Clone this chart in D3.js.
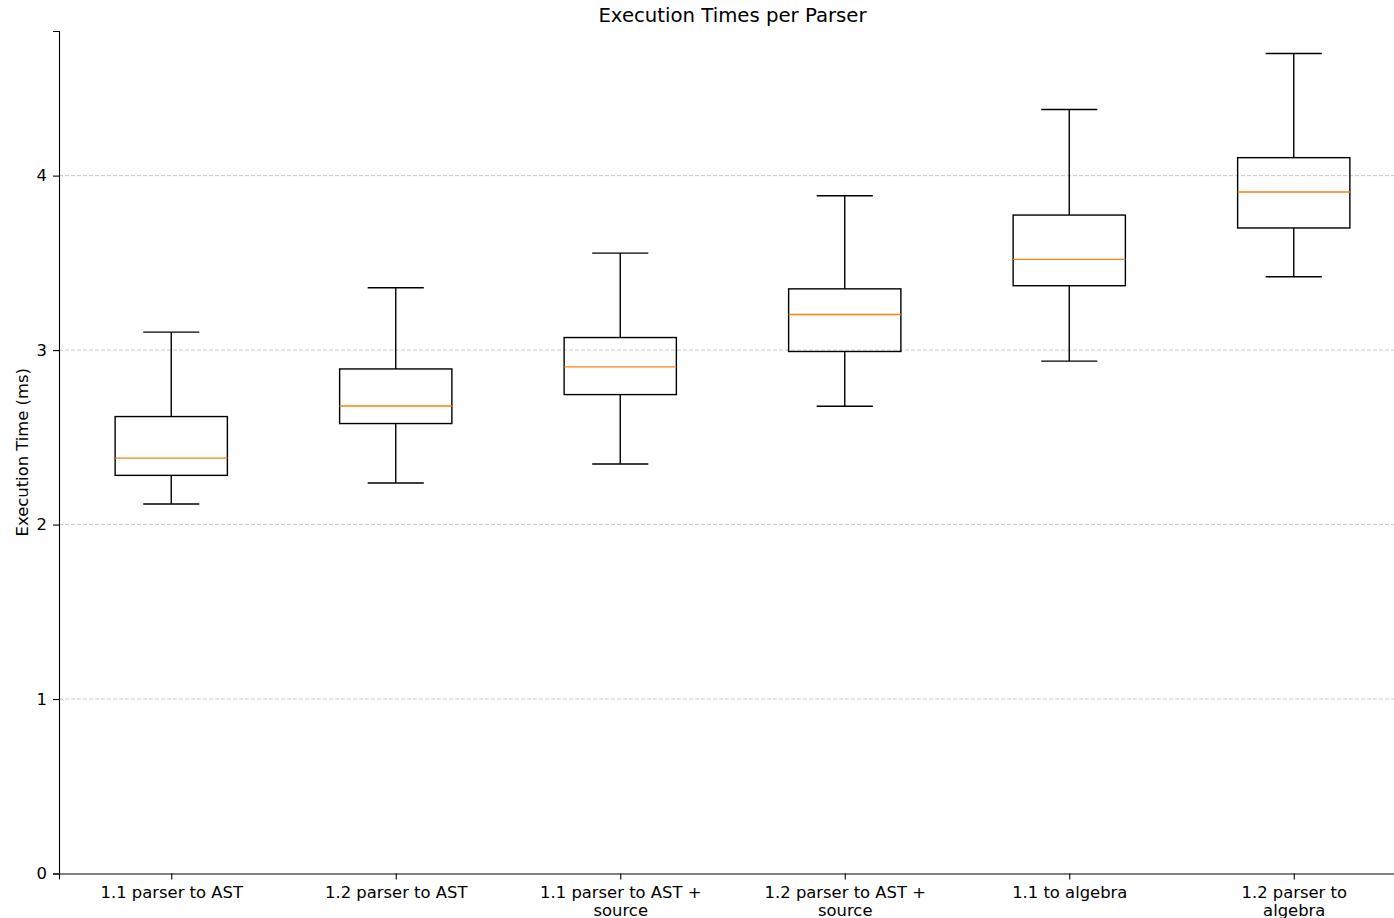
<!DOCTYPE html>
<html>
<head>
<meta charset="utf-8">
<script src="https://cdn.jsdelivr.net/npm/d3@7"></script>
<style>
  html, body { margin: 0; padding: 0; background: #fff; }
  svg { display: block; font-family: "DejaVu Sans", sans-serif; }
</style>
</head>
<body>
<svg id="chart" width="1394" height="918"></svg>
<script>
const categories = [
  ["1.1 parser to AST"],
  ["1.2 parser to AST"],
  ["1.1 parser to AST +", "source"],
  ["1.2 parser to AST +", "source"],
  ["1.1 to algebra"],
  ["1.2 parser to", "algebra"]
];
const whiskerLow  = [2.118, 2.238, 2.347, 2.678, 2.937, 3.420];
const q1          = [2.282, 2.579, 2.745, 2.992, 3.369, 3.700];
const median      = [2.381, 2.680, 2.904, 3.204, 3.520, 3.906];
const q3          = [2.619, 2.892, 3.072, 3.351, 3.774, 4.103];
const whiskerHigh = [3.103, 3.357, 3.556, 3.885, 4.379, 4.700];
const yTicks = [0, 1, 2, 3, 4];

const svg = d3.select("#chart");
const mLeft = 59, mRight = 1406, mTop = 31, mBottom = 873.5;
const fs = 16.4;

const x = d3.scaleLinear().domain([0.5, 6.5]).range([mLeft, mRight]);
const y = d3.scaleLinear().domain([0, 4.829]).range([mBottom, mTop]);

// grid
svg.append("g").selectAll("line").data(yTicks.filter(d => d > 0)).join("line")
  .attr("x1", mLeft).attr("x2", mRight)
  .attr("y1", d => y(d)).attr("y2", d => y(d))
  .attr("stroke", "#c8c8c8").attr("stroke-width", 1)
  .attr("stroke-dasharray", "4,2");

// y axis
const yAxis = svg.append("g").attr("transform", `translate(${mLeft},0)`)
  .call(d3.axisLeft(y).tickValues(yTicks).tickFormat(d3.format("d")).tickSizeOuter(0).tickSize(6).tickPadding(6));
yAxis.select(".domain").attr("stroke", "#000").attr("stroke-width", 1.1);
yAxis.selectAll(".tick line").attr("stroke", "#000").attr("stroke-width", 1.1);
yAxis.selectAll(".tick text").attr("font-size", fs).attr("fill", "#000").attr("font-family", "DejaVu Sans");

// x axis
const idx = d3.range(1, 7);
const xAxis = svg.append("g").attr("transform", `translate(0,${mBottom})`)
  .call(d3.axisBottom(x).tickValues(idx).tickFormat("").tickSizeOuter(0).tickSize(6));
xAxis.select(".domain").attr("stroke", "#000").attr("stroke-width", 1.1);
xAxis.selectAll(".tick line").attr("stroke", "#000").attr("stroke-width", 1.1);
xAxis.selectAll(".tick").each(function(d) {
  const lines = categories[d - 1];
  const t = d3.select(this).append("text")
    .attr("text-anchor", "middle").attr("font-size", fs).attr("fill", "#000")
    .attr("font-family", "DejaVu Sans");
  lines.forEach((ln, i) => {
    t.append("tspan").attr("x", 0).attr("y", 24 + i * 18.3).text(ln);
  });
});

// boxes
const data = idx.map((k, i) => ({k, lo: whiskerLow[i], q1: q1[i], med: median[i], q3: q3[i], hi: whiskerHigh[i]}));
const boxHalf = 0.25, capHalf = 0.125;
const g = svg.append("g").attr("stroke-width", 1.4);
const b = g.selectAll("g.box").data(data).join("g").attr("class", "box");
b.append("line").attr("x1", d => x(d.k)).attr("x2", d => x(d.k))
  .attr("y1", d => y(d.q3)).attr("y2", d => y(d.hi)).attr("stroke", "#000");
b.append("line").attr("x1", d => x(d.k)).attr("x2", d => x(d.k))
  .attr("y1", d => y(d.q1)).attr("y2", d => y(d.lo)).attr("stroke", "#000");
b.append("line").attr("x1", d => x(d.k - capHalf)).attr("x2", d => x(d.k + capHalf))
  .attr("y1", d => y(d.hi)).attr("y2", d => y(d.hi)).attr("stroke", "#000");
b.append("line").attr("x1", d => x(d.k - capHalf)).attr("x2", d => x(d.k + capHalf))
  .attr("y1", d => y(d.lo)).attr("y2", d => y(d.lo)).attr("stroke", "#000");
b.append("rect").attr("x", d => x(d.k - boxHalf)).attr("width", d => x(d.k + boxHalf) - x(d.k - boxHalf))
  .attr("y", d => y(d.q3)).attr("height", d => y(d.q1) - y(d.q3))
  .attr("fill", "none").attr("stroke", "#000");
b.append("line").attr("x1", d => x(d.k - boxHalf)).attr("x2", d => x(d.k + boxHalf))
  .attr("y1", d => y(d.med)).attr("y2", d => y(d.med)).attr("stroke", "#ff7f0e");

// title
svg.append("text").attr("x", 732.5).attr("y", 21.5)
  .attr("text-anchor", "middle").attr("font-size", 19.7).attr("fill", "#000")
  .text("Execution Times per Parser");

// y label
svg.append("text").attr("transform", `translate(28,${(mTop + mBottom) / 2}) rotate(-90)`)
  .attr("text-anchor", "middle").attr("font-size", fs).attr("fill", "#000")
  .text("Execution Time (ms)");
</script>
</body>
</html>
